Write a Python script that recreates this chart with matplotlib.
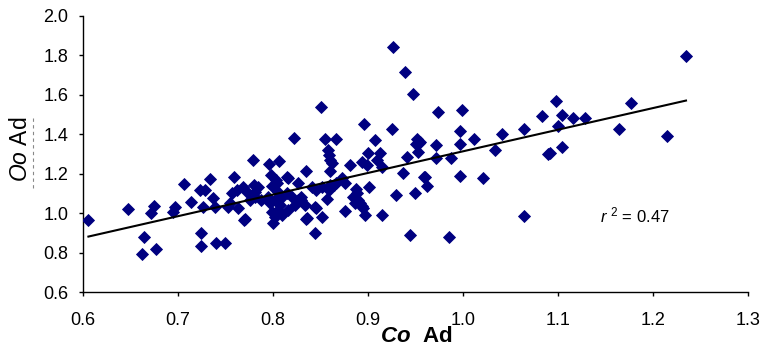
import numpy as np
import matplotlib
matplotlib.use("Agg")
import matplotlib.pyplot as plt
from matplotlib.lines import Line2D

plt.rcParams['font.family'] = ['Liberation Sans', 'DejaVu Sans']
plt.rcParams['mathtext.fontset'] = 'custom'
plt.rcParams['mathtext.rm'] = 'Liberation Sans'
plt.rcParams['mathtext.it'] = 'Liberation Sans:italic'
plt.rcParams['mathtext.bf'] = 'Liberation Sans:bold'
plt.rcParams['mathtext.bfit'] = 'Liberation Sans:bold:italic'

# ---- data ----
co_ad = [0.606, 0.648, 0.675, 0.672, 0.664, 0.662, 0.677, 0.697, 0.695, 0.707,
         0.714, 0.723, 0.729, 0.734, 0.727, 0.737, 0.739, 0.725, 0.724, 0.740,
         0.750, 0.753, 0.759, 0.757, 0.762, 0.763, 0.770, 0.779, 0.796, 0.807,
         0.755, 0.798, 0.815, 0.827, 0.769, 0.773, 0.780, 0.784, 0.781, 0.799,
         0.804, 0.806, 0.815, 0.820, 0.776, 0.781, 0.788, 0.795, 0.797, 0.802,
         0.808, 0.810, 0.799, 0.806, 0.802, 0.810, 0.816, 0.823, 0.827, 0.800,
         0.835, 0.830, 0.803, 0.816, 0.822, 0.835, 0.851, 0.896, 0.926, 0.855,
         0.867, 0.858, 0.859, 0.860, 0.862, 0.860, 0.908, 0.952, 0.954, 0.953,
         0.900, 0.913, 0.910, 0.894, 0.915, 0.881, 0.941, 0.937, 0.959, 0.962,
         0.950, 0.930, 0.901, 0.888, 0.884, 0.890, 0.894, 0.897, 0.915, 0.945,
         0.876, 0.857, 0.845, 0.852, 0.844, 0.771, 0.899, 0.873, 0.867, 0.876,
         0.841, 0.846, 0.852, 0.860, 0.864, 0.859, 0.889, 0.887, 0.830, 0.834,
         0.846, 0.892, 0.895, 0.836, 0.939, 0.948, 0.974, 0.999, 1.098, 1.083,
         1.105, 1.116, 1.129, 1.100, 1.065, 1.041, 1.012, 0.997, 0.997, 0.955,
         0.951, 0.972, 0.972, 0.988, 1.034, 1.092, 1.090, 1.105, 0.960, 0.997,
         1.021, 1.065, 0.986, 0.927, 1.235, 1.177, 1.164, 1.215]
oo_ad = [0.966, 1.020, 1.037, 1.000, 0.879, 0.793, 0.819, 1.030, 1.008, 1.147,
         1.056, 1.118, 1.118, 1.172, 1.030, 1.076, 1.033, 0.902, 0.836, 0.852,
         0.852, 1.033, 1.182, 1.104, 1.116, 1.028, 0.966, 1.270, 1.250, 1.266,
         1.050, 1.194, 1.185, 1.152, 1.135, 1.110, 1.144, 1.135, 1.110, 1.139,
         1.152, 1.110, 1.101, 1.084, 1.067, 1.084, 1.067, 1.084, 1.050, 1.067,
         1.042, 1.084, 1.008, 1.017, 0.983, 0.991, 1.017, 1.042, 1.067, 0.949,
         0.969, 1.084, 1.168, 1.177, 1.379, 1.215, 1.539, 1.452, 1.425, 1.374,
         1.374, 1.320, 1.295, 1.270, 1.253, 1.215, 1.369, 1.374, 1.357, 1.312,
         1.307, 1.307, 1.270, 1.261, 1.233, 1.244, 1.286, 1.205, 1.182, 1.138,
         1.101, 1.093, 1.132, 1.121, 1.084, 1.067, 1.037, 0.991, 0.991, 0.890,
         1.013, 1.072, 1.030, 0.980, 0.899, 0.969, 1.244, 1.177, 1.152, 1.152,
         1.135, 1.118, 1.135, 1.144, 1.144, 1.118, 1.101, 1.050, 1.067, 1.042,
         1.025, 1.050, 1.025, 0.974, 1.713, 1.602, 1.514, 1.523, 1.568, 1.494,
         1.497, 1.481, 1.481, 1.443, 1.426, 1.399, 1.374, 1.418, 1.349, 1.362,
         1.350, 1.345, 1.278, 1.281, 1.320, 1.307, 1.300, 1.337, 1.185, 1.190,
         1.180, 0.988, 0.879, 1.840, 1.795, 1.559, 1.426, 1.391]

trend_slope = 1.094
trend_intercept = 0.219
r2_label = "0.47"

x_ticks = [0.6, 0.7, 0.8, 0.9, 1.0, 1.1, 1.2, 1.3]
y_ticks = [0.6, 0.8, 1.0, 1.2, 1.4, 1.6, 1.8, 2.0]

# ---- figure ----
fig = plt.figure(figsize=(7.63, 3.51), dpi=100)
ax = fig.add_axes([0.1084, 0.1672, 0.8716, 0.7884])

ax.plot(co_ad, oo_ad, linestyle='none', marker='D', markersize=6.0,
        markerfacecolor='#000080', markeredgecolor='#000080',
        markeredgewidth=0.6, zorder=3)

xl = np.array([min(co_ad), max(co_ad)])
ax.plot(xl, trend_slope * xl + trend_intercept, color='black', lw=1.5, zorder=4)

ax.set_xlim(0.6, 1.3)
ax.set_ylim(0.6, 2.0)
ax.set_xticks(x_ticks)
ax.set_yticks(y_ticks)
ax.set_xticklabels([f"{t:.1f}" for t in x_ticks])
ax.set_yticklabels([f"{t:.1f}" for t in y_ticks])
ax.tick_params(direction='out', length=3, width=1, labelsize=13, colors='black')
ax.tick_params(axis='x', pad=11)
ax.tick_params(axis='y', pad=7.5)
for s in ['top', 'right']:
    ax.spines[s].set_visible(False)
for s in ['left', 'bottom']:
    ax.spines[s].set_linewidth(1)
    ax.spines[s].set_color('black')
ax.patch.set_alpha(0)

fig.text(0.545, 0.04, r'$\mathbfit{Co}$  Ad', ha='center', va='center',
         fontsize=16, fontweight='bold')
fig.text(0.027, 0.575, r'$\mathit{Oo}$ Ad', ha='center', va='center',
         rotation=90, fontsize=16.5)
fig.add_artist(Line2D([0.0432, 0.0432], [0.464, 0.667], transform=fig.transFigure,
                      color='#888888', lw=0.8, linestyle=(0, (3, 3))))

ax.text(1.1445, 0.953, r'$\mathit{r}$ $^{2}$ = ' + r2_label, fontsize=12,
        ha='left', va='baseline', transform=ax.transData)

fig.savefig('out.png', dpi=100)
